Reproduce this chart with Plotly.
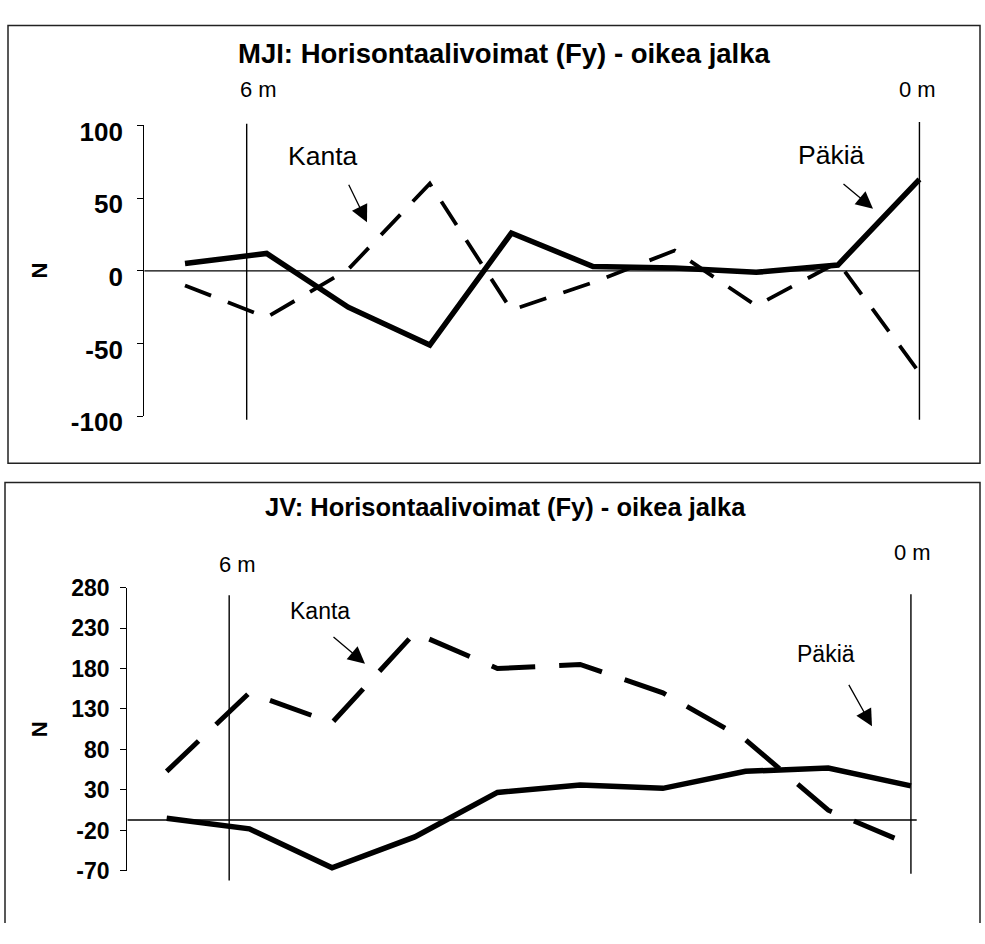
import plotly.graph_objects as go

# ---------------- data ----------------
samples = list(range(10))
mji_pakia = [5, 12, -25, -51, 26, 3, 2, -1, 4, 63]
mji_kanta = [-10, -32, 1, 60, -27, -8, 14, -24, 6, -70]
jv_pakia = [-5, -18, -66, -28, 27, 36, 32, 53, 57, 35]
jv_kanta = [53, 150, 113, 224, 180, 185, 150, 92, 5, -38]
mji_ticks = [-100, -50, 0, 50, 100]
jv_ticks = [-70, -20, 30, 80, 130, 180, 230, 280]
mark_positions = [0.756, 9.0]          # "6 m" and "0 m" markers on the sample axis
mark_labels = ["6 m", "0 m"]
jv_baseline = -7                        # horizontal reference line as drawn in the JV panel
titles = ["MJI: Horisontaalivoimat (Fy) - oikea jalka",
          "JV: Horisontaalivoimat (Fy) - oikea jalka"]

# ---------------- layout helpers ----------------
W, H = 985, 944
FONT = "Liberation Sans, Arial, sans-serif"


def px(x):
    return x / W


def py(y):
    return 1 - y / H


fig = go.Figure()

# top panel traces
fig.add_trace(go.Scatter(x=samples, y=mji_pakia, mode="lines", name="Päkiä",
                         line=dict(color="black", width=5.5), xaxis="x", yaxis="y"))
fig.add_trace(go.Scatter(x=samples, y=mji_kanta, mode="lines", name="Kanta",
                         line=dict(color="black", width=3.8, dash="28px,18px"), xaxis="x", yaxis="y"))
# bottom panel traces
fig.add_trace(go.Scatter(x=samples, y=jv_pakia, mode="lines", name="Päkiä",
                         line=dict(color="black", width=5.5), xaxis="x2", yaxis="y2"))
fig.add_trace(go.Scatter(x=samples, y=jv_kanta, mode="lines", name="Kanta",
                         line=dict(color="black", width=5, dash="44px,24px"), xaxis="x2", yaxis="y2"))

yaxis_common = dict(showline=True, linecolor="black", linewidth=1.2, ticks="outside",
                    ticklen=6, tickwidth=1.2, tickcolor="black", showgrid=False,
                    zeroline=False, tickmode="array")

fig.update_layout(
    width=W, height=H, margin=dict(l=0, r=0, t=0, b=0),
    paper_bgcolor="white", plot_bgcolor="rgba(0,0,0,0)", showlegend=False,
    xaxis=dict(domain=[px(144.2), px(927.6)], range=[-0.5, 9.1], visible=False),
    yaxis=dict(domain=[py(418.3), py(116.7)], range=[-100, 100], tickvals=mji_ticks,
               ticktext=[str(v) for v in mji_ticks],
               tickfont=dict(family=FONT, size=26, color="black", weight="bold"),
               ticklabelstandoff=9, ticklabelshift=6, **yaxis_common),
    xaxis2=dict(domain=[px(127.3), px(919.2)], range=[-0.476, 9.1], visible=False,
                anchor="y2"),
    yaxis2=dict(domain=[py(890), py(596)], range=[-70, 280], tickvals=jv_ticks,
                ticktext=[str(v) for v in jv_ticks],
                anchor="x2",
                tickfont=dict(family=FONT, size=23, color="black", weight="bold"),
                ticklabelstandoff=6, **yaxis_common),
)

shapes = []
# frames
shapes.append(dict(type="rect", xref="paper", yref="paper", x0=px(8), x1=px(980),
                   y0=py(467), y1=py(13), line=dict(color="#222", width=1.5)))
shapes.append(dict(type="path", xref="paper", yref="paper",
                   path=f"M {px(5)},{py(944)} L {px(5)},{py(487)} L {px(980)},{py(487)} L {px(980)},{py(944)}",
                   line=dict(color="#222", width=1.5)))
# zero / reference lines
shapes.append(dict(type="line", xref="x", yref="y", x0=-0.5, x1=9.0, y0=0, y1=0,
                   line=dict(color="black", width=1.4)))
shapes.append(dict(type="line", xref="x2", yref="y2", x0=-0.476, x1=9.07,
                   y0=jv_baseline, y1=jv_baseline, line=dict(color="black", width=1.4)))
# distance marker lines
top_spans = [(115, 422), (113, 422)]
bot_spans = [(604, 900), (603, 893)]
for xm, (a, b) in zip(mark_positions, top_spans):
    shapes.append(dict(type="line", xref="x", yref="paper", x0=xm, x1=xm,
                       y0=py(b), y1=py(a), line=dict(color="black", width=1.4)))
for xm, (a, b) in zip(mark_positions, bot_spans):
    shapes.append(dict(type="line", xref="x2", yref="paper", x0=xm, x1=xm,
                       y0=py(b), y1=py(a), line=dict(color="black", width=1.4)))
fig.update_layout(shapes=shapes)

ann = []


def text(x, y, s, size, bold=False, angle=0):
    ann.append(dict(x=px(x), y=py(y), xref="paper", yref="paper", text=s,
                    showarrow=False, xanchor="center", yanchor="middle", textangle=angle,
                    font=dict(family=FONT, size=size, color="black",
                              weight="bold" if bold else "normal")))


def arrow(tail, head):
    ann.append(dict(x=px(head[0]), y=py(head[1]), xref="paper", yref="paper", text="",
                    showarrow=True, ax=tail[0] - head[0], ay=tail[1] - head[1],
                    arrowhead=2, arrowsize=2.6, arrowwidth=1.3, arrowcolor="black",
                    standoff=0, startstandoff=0))


text(504, 42, titles[0], 27.5, bold=True)
text(505, 512, titles[1], 25.5, bold=True)
text(258, 79, mark_labels[0], 22)
text(917, 79, mark_labels[1], 22)
text(237, 572, mark_labels[0], 22)
text(912, 560, mark_labels[1], 22)
text(323, 148, "Kanta", 26.5)
text(831, 147, "Päkiä", 26.5)
text(320, 620, "Kanta", 23)
text(826, 665, "Päkiä", 23)
text(39, 267, "N", 22, bold=True, angle=-90)
text(39, 743, "N", 22, bold=True, angle=-90)

arrow((348, 178), (367, 217))
arrow((842, 177), (873, 203))
arrow((332, 647), (365, 675))
arrow((848, 697), (872, 740))

fig.update_layout(annotations=ann)

fig.write_html("out.html", config={"displayModeBar": False},
               post_script="document.body.style.margin='0px';")
